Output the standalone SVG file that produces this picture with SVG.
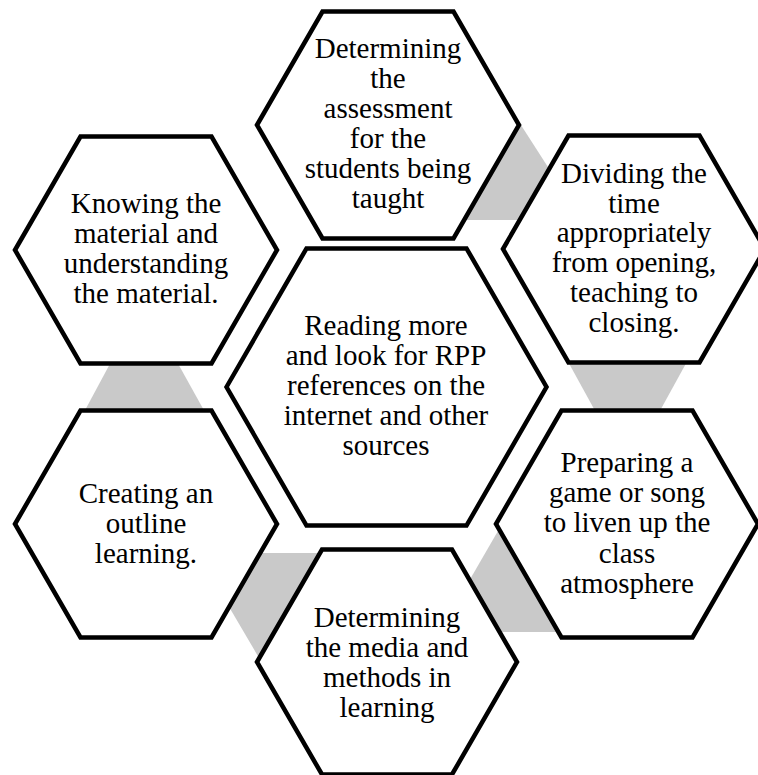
<svg xmlns="http://www.w3.org/2000/svg" width="758" height="775" viewBox="0 0 758 775">
<style>
.hex{fill:#ffffff;stroke:#000000;stroke-width:4.5;stroke-linejoin:miter}
.link{fill:#c9c9c9;stroke:none}
.t{font-family:"Liberation Serif","Times New Roman",serif;font-size:29px;fill:#000000;text-anchor:middle}
</style>
<rect width="758" height="775" fill="#ffffff"/>
<g id="connectors">
<polygon class="link" points="519,122 555,178 522,220 455,220 490,160"/>
<polygon class="link" points="566,358 689,358 656,418 599,418"/>
<polygon class="link" points="502,524 465,588 485,632 562,632 510,524"/>
<polygon class="link" points="250,553 330,553 262,663 215,583"/>
<polygon class="link" points="112,360 176,360 206,414 83,414"/>
</g>
<g id="node-top">
<polygon class="hex" points="257,125 322.5,11.6 453.5,11.6 519,125 453.5,238.4 322.5,238.4"/>
<text class="t" x="388" y="58">Determining</text>
<text class="t" x="388" y="88">the</text>
<text class="t" x="388" y="118">assessment</text>
<text class="t" x="388" y="148">for the</text>
<text class="t" x="388" y="178">students being</text>
<text class="t" x="388" y="208">taught</text>
</g>
<g id="node-knowing">
<polygon class="hex" points="15,250 80.5,136.6 211.5,136.6 277,250 211.5,363.4 80.5,363.4"/>
<text class="t" x="146" y="213">Knowing the</text>
<text class="t" x="146" y="243">material and</text>
<text class="t" x="146" y="273">understanding</text>
<text class="t" x="146" y="303">the material.</text>
</g>
<g id="node-dividing">
<polygon class="hex" points="503,249 568.5,135.6 699.5,135.6 765,249 699.5,362.4 568.5,362.4"/>
<text class="t" x="634" y="183">Dividing the</text>
<text class="t" x="634" y="213">time</text>
<text class="t" x="634" y="242">appropriately</text>
<text class="t" x="634" y="272">from opening,</text>
<text class="t" x="634" y="302">teaching to</text>
<text class="t" x="634" y="332">closing.</text>
</g>
<g id="node-center">
<polygon class="hex" points="226.5,387 306.5,248.4 466.5,248.4 546.5,387 466.5,525.6 306.5,525.6"/>
<text class="t" x="386" y="335">Reading more</text>
<text class="t" x="386" y="365">and look for RPP</text>
<text class="t" x="386" y="395">references on the</text>
<text class="t" x="386" y="425">internet and other</text>
<text class="t" x="386" y="455">sources</text>
</g>
<g id="node-creating">
<polygon class="hex" points="15,524 80.5,410.6 211.5,410.6 277,524 211.5,637.4 80.5,637.4"/>
<text class="t" x="146" y="503">Creating an</text>
<text class="t" x="146" y="533">outline</text>
<text class="t" x="146" y="563">learning.</text>
</g>
<g id="node-preparing">
<polygon class="hex" points="496,524 561.5,410.6 692.5,410.6 758,524 692.5,637.4 561.5,637.4"/>
<text class="t" x="627" y="472">Preparing a</text>
<text class="t" x="627" y="502">game or song</text>
<text class="t" x="627" y="532">to liven up the</text>
<text class="t" x="627" y="563">class</text>
<text class="t" x="627" y="593">atmosphere</text>
</g>
<g id="node-bottom">
<polygon class="hex" points="257,662 322,549.5 452,549.5 517,662 452,774.5 322,774.5"/>
<text class="t" x="387" y="627">Determining</text>
<text class="t" x="387" y="657">the media and</text>
<text class="t" x="387" y="687">methods in</text>
<text class="t" x="387" y="717">learning</text>
</g>
</svg>
